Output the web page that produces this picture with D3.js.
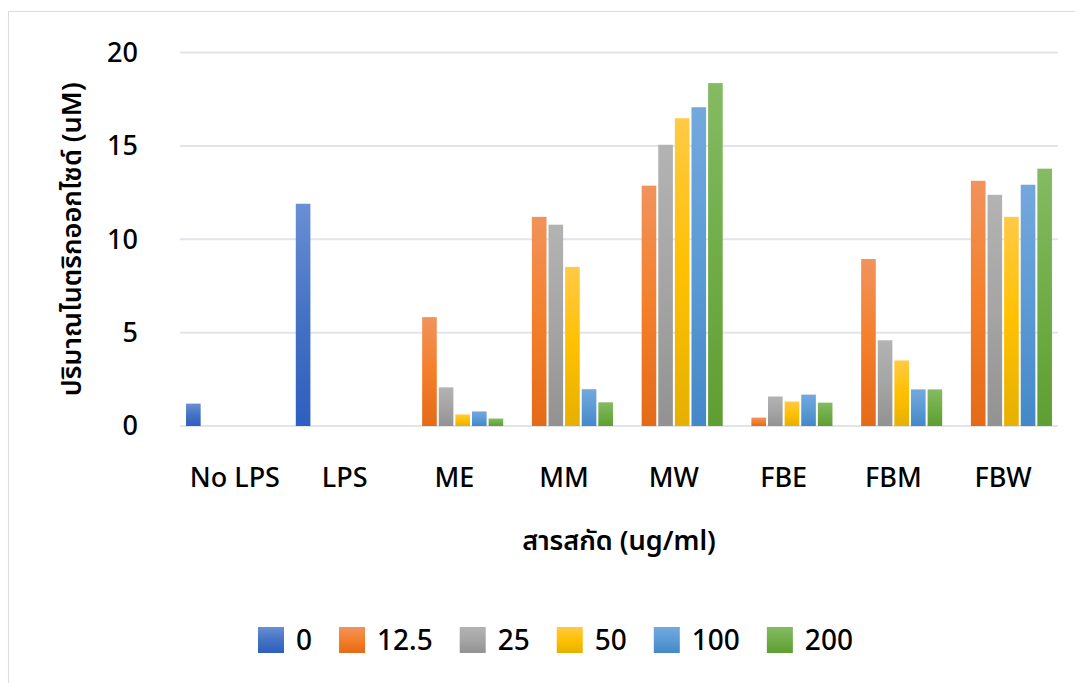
<!DOCTYPE html>
<html>
<head>
<meta charset="utf-8">
<script src="https://cdn.jsdelivr.net/npm/d3@7"></script>
<style>
  html, body { margin: 0; padding: 0; background: #fff; }
  text { font-family: "Noto Sans", "Noto Sans Thai", "Loma", "Garuda", sans-serif; fill: #000; font-weight: 500; }
</style>
</head>
<body>
<div id="chart-area"></div>
<script>
var categories = ["No LPS", "LPS", "ME", "MM", "MW", "FBE", "FBM", "FBW"];
var seriesNames = ["0", "12.5", "25", "50", "100", "200"];

// one array per concentration, one value per extract
var values0 = [1.2, 11.9, 0, 0, 0, 0, 0, 0];
var values12_5 = [0, 0, 5.83, 11.2, 12.87, 0.45, 8.94, 13.13];
var values25 = [0, 0, 2.07, 10.78, 15.06, 1.58, 4.59, 12.38];
var values50 = [0, 0, 0.62, 8.52, 16.48, 1.31, 3.51, 11.2];
var values100 = [0, 0, 0.78, 1.97, 17.07, 1.68, 1.96, 12.92];
var values200 = [0, 0, 0.4, 1.27, 18.36, 1.25, 1.96, 13.78];

var yTicks = [0, 5, 10, 15, 20];

var seriesColors = [
    ["#6a8fd4", "#4472c4", "#2f5fbf"],
    ["#f1935c", "#f47f2a", "#e46a17"],
    ["#b3b3b3", "#a5a5a5", "#929292"],
    ["#ffca45", "#ffc000", "#e6b000"],
    ["#74a8dd", "#5b9bd5", "#4488c8"],
    ["#85bb63", "#70ad47", "#5f9e33"]
];

var allValues = [values0, values12_5, values25, values50, values100, values200];

var dims = {
    width: 1075,
    height: 683,
    plotLeft: 180,
    plotRight: 1058,
    plotTop: 52.5,
    plotBottom: 426
};

var svg = d3.select("#chart-area")
    .append("svg")
    .attr("width", dims.width)
    .attr("height", dims.height);

// outer chart border (runs off the right and bottom edge)
svg.append("rect")
    .attr("x", 8.5)
    .attr("y", 11.5)
    .attr("width", 1100)
    .attr("height", 700)
    .attr("fill", "none")
    .attr("stroke", "#d9dde3")
    .attr("stroke-width", 1);

var defs = svg.append("defs");
seriesColors.forEach(function (c, i) {
    var g = defs.append("linearGradient")
        .attr("id", "grad" + i)
        .attr("x1", 0).attr("y1", 0)
        .attr("x2", 0).attr("y2", 1);
    g.append("stop").attr("offset", "0%").attr("stop-color", c[0]);
    g.append("stop").attr("offset", "50%").attr("stop-color", c[1]);
    g.append("stop").attr("offset", "100%").attr("stop-color", c[2]);
});

var x0 = d3.scaleBand()
    .domain(categories)
    .range([dims.plotLeft, dims.plotRight])
    .paddingInner(0)
    .paddingOuter(0);

var x1 = d3.scaleBand()
    .domain(seriesNames)
    .range([x0.bandwidth() * 0.055, x0.bandwidth() * 0.945])
    .paddingInner(0.12)
    .paddingOuter(0);

var y = d3.scaleLinear()
    .domain([0, 20])
    .range([dims.plotBottom, dims.plotTop]);

// gridlines
svg.append("g")
    .selectAll("line")
    .data(yTicks)
    .enter().append("line")
    .attr("x1", dims.plotLeft)
    .attr("x2", dims.plotRight)
    .attr("y1", function (d) { return y(d); })
    .attr("y2", function (d) { return y(d); })
    .attr("stroke", "#e1e5ea")
    .attr("stroke-width", 2);

// tick labels
svg.append("g")
    .selectAll("text")
    .data(yTicks)
    .enter().append("text")
    .attr("x", 138)
    .attr("y", function (d) { return y(d); })
    .attr("dy", "0.35em")
    .attr("text-anchor", "end")
    .style("font-size", "27px")
    .text(function (d) { return d; });

// bars
var groups = svg.append("g")
    .selectAll("g")
    .data(categories)
    .enter().append("g")
    .attr("transform", function (d) { return "translate(" + x0(d) + ",0)"; });

groups.selectAll("rect")
    .data(function (d, ci) {
        return seriesNames.map(function (s, si) {
            return { series: s, index: si, value: allValues[si][ci] };
        });
    })
    .enter().append("rect")
    .filter(function (d) { return d.value > 0; })
    .attr("x", function (d) { return x1(d.series); })
    .attr("width", x1.bandwidth())
    .attr("y", function (d) { return y(d.value); })
    .attr("height", function (d) { return y(0) - y(d.value); })
    .attr("fill", function (d) { return "url(#grad" + d.index + ")"; });

// category labels
svg.append("g")
    .selectAll("text")
    .data(categories)
    .enter().append("text")
    .attr("x", function (d) { return x0(d) + x0.bandwidth() / 2; })
    .attr("y", 487)
    .attr("text-anchor", "middle")
    .style("font-size", "27px")
    .text(function (d) { return d; });

// axis titles
svg.append("text")
    .attr("x", (dims.plotLeft + dims.plotRight) / 2)
    .attr("y", 550)
    .attr("text-anchor", "middle")
    .style("font-size", "27px")
    .style("font-weight", 600)
    .text("สารสกัด (ug/ml)");

svg.append("text")
    .attr("transform", "translate(81," + ((dims.plotTop + dims.plotBottom) / 2) + ") rotate(-90)")
    .attr("text-anchor", "middle")
    .style("font-size", "27px")
    .style("font-weight", 600)
    .text("ปริมาณไนตริกออกไซด์ (uM)");

// legend
var legend = svg.append("g");
var lx = 258;
seriesNames.forEach(function (s, i) {
    legend.append("rect")
        .attr("x", lx)
        .attr("y", 627)
        .attr("width", 26)
        .attr("height", 26)
        .attr("fill", "url(#grad" + i + ")");
    var t = legend.append("text")
        .attr("x", lx + 38)
        .attr("y", 640)
        .attr("dy", "0.35em")
        .style("font-size", "28px")
        .text(s);
    lx += 38 + t.node().getComputedTextLength() + 27;
});
</script>
</body>
</html>
